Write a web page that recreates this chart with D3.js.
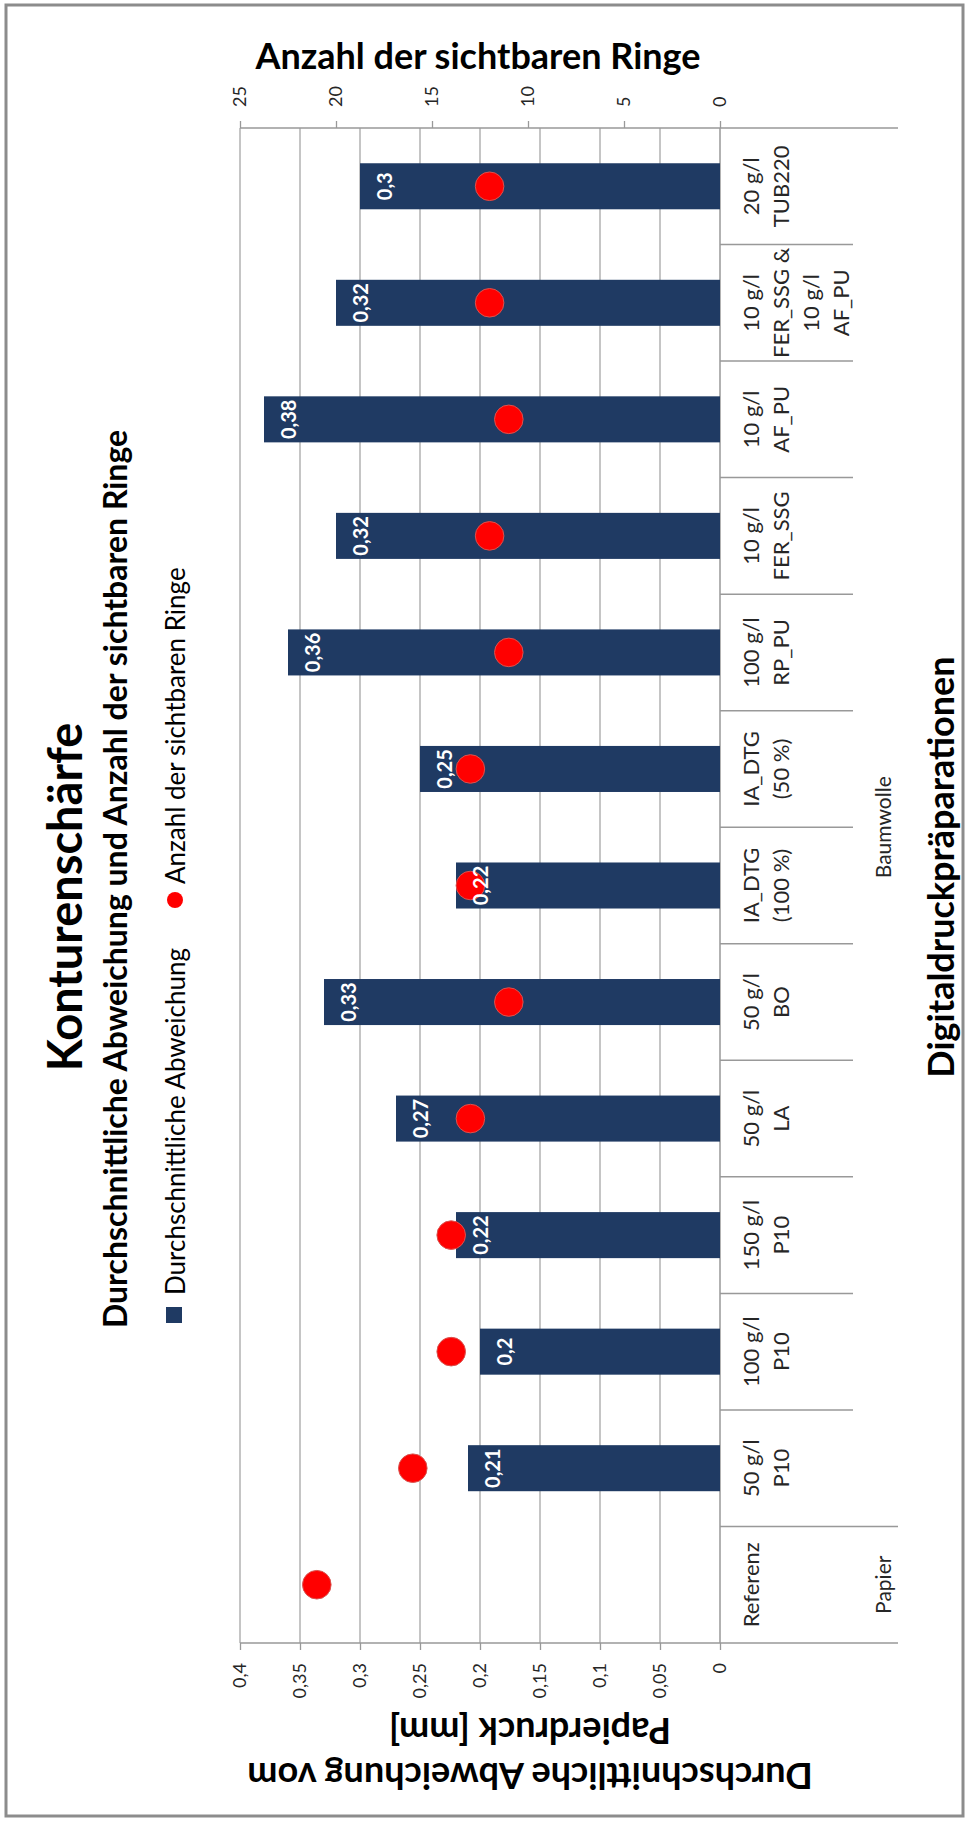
<!DOCTYPE html>
<html>
<head>
<meta charset="utf-8">
<script src="https://cdn.jsdelivr.net/npm/d3@7"></script>
<style>
  body { margin: 0; background: #fff; }
  svg { display: block; font-family: Lato, "Open Sans", sans-serif; }
</style>
</head>
<body>
<div id="chart"></div>
<script>
//Categories from left to right of the lying chart ("|" = line break)
var categories = ["Referenz", "50 g/l|P10", "100 g/l|P10", "150 g/l|P10", "50 g/l|LA", "50 g/l|BO",
    "IA_DTG|(100 %)", "IA_DTG|(50 %)", "100 g/l|RP_PU", "10 g/l|FER_SSG", "10 g/l|AF_PU",
    "10 g/l|FER_SSG &|10 g/l|AF_PU", "20 g/l|TUB220"];
var groupNames = ["Papier", "Baumwolle"];
var groupSizes = [1, 12];

//Durchschnittliche Abweichung [mm] (bars), no bar for the reference
var deviation = [null, 0.21, 0.2, 0.22, 0.27, 0.33, 0.22, 0.25, 0.36, 0.32, 0.38, 0.32, 0.3];
//Anzahl der sichtbaren Ringe (dots, secondary axis)
var rings = [21, 16, 14, 14, 13, 11, 13, 13, 11, 12, 11, 12, 12];

var devTicks = [0, 0.05, 0.1, 0.15, 0.2, 0.25, 0.3, 0.35, 0.4];
var ringTicks = [0, 5, 10, 15, 20, 25];

//Page size (portrait). The chart is built lying down and turned by -90 degrees
var width = 968,
    height = 1821;

var plot = { left: 178, right: 1693, top: 240, bottom: 720 };
var catEnd = 853,   //end of the category separators
    groupEnd = 898; //end of the group separators

var de = d3.formatLocale({ decimal: ",", thousands: ".", grouping: [3], currency: ["", "€"] });
var fmt = de.format(".2~f");

var svg = d3.select("#chart").append("svg")
    .attr("width", width)
    .attr("height", height);

//outer frame
svg.append("rect")
    .attr("x", 6).attr("y", 5)
    .attr("width", width - 11).attr("height", height - 10)
    .attr("fill", "none")
    .attr("stroke", "#8c8c8c")
    .attr("stroke-width", 3);

var g = svg.append("g")
    .attr("transform", "translate(0," + height + ") rotate(-90)");

//Scales
var x = d3.scaleBand()
    .domain(d3.range(categories.length))
    .range([plot.left, plot.right]);
var y = d3.scaleLinear().domain([0, 0.4]).range([plot.bottom, plot.top]);
var y2 = d3.scaleLinear().domain([0, 25]).range([plot.bottom, plot.top]);
var bw = x.bandwidth(),
    barW = bw * 0.395;

//Gridlines
g.append("g")
    .selectAll("line")
    .data(devTicks.slice(1))
    .enter().append("line")
    .attr("x1", plot.left).attr("x2", plot.right)
    .attr("y1", function (d) { return y(d); })
    .attr("y2", function (d) { return y(d); })
    .attr("stroke", "#a6a6a6")
    .attr("stroke-width", 1.3);

//Primary axis (left of the lying chart)
var axisL = g.append("g")
    .attr("transform", "translate(" + plot.left + ",0)")
    .call(d3.axisLeft(y).tickValues(devTicks).tickSize(7).tickPadding(13).tickFormat(fmt));
axisL.select(".domain").remove();

//Secondary axis (right)
var axisR = g.append("g")
    .attr("transform", "translate(" + plot.right + ",0)")
    .call(d3.axisRight(y2).tickValues(ringTicks).tickSize(7).tickPadding(14));
axisR.select(".domain").remove();

g.selectAll(".tick line").attr("stroke", "#999").attr("stroke-width", 1.3);
g.selectAll(".tick text")
    .attr("font-size", 18)
    .attr("font-family", "Lato, sans-serif")
    .attr("fill", "#262626");

//Axis lines
var axisLines = [
    [plot.left, y(0.4), plot.left, groupEnd],
    [plot.right, y2(25), plot.right, groupEnd],
    [plot.left, y(0), plot.right, y(0)]
];
g.append("g")
    .selectAll("line")
    .data(axisLines)
    .enter().append("line")
    .attr("x1", function (d) { return d[0]; })
    .attr("y1", function (d) { return d[1]; })
    .attr("x2", function (d) { return d[2]; })
    .attr("y2", function (d) { return d[3]; })
    .attr("stroke", "#999")
    .attr("stroke-width", 1.5);

//Category separators (longer where a group ends)
var groupStarts = d3.cumsum(groupSizes);
g.append("g")
    .selectAll("line")
    .data(d3.range(1, categories.length))
    .enter().append("line")
    .attr("x1", function (d) { return x(d); })
    .attr("x2", function (d) { return x(d); })
    .attr("y1", y(0))
    .attr("y2", function (d) { return groupStarts.indexOf(d) >= 0 ? groupEnd : catEnd; })
    .attr("stroke", "#999")
    .attr("stroke-width", 1.5);

//Bars
var idx = d3.range(categories.length);
g.append("g")
    .selectAll("rect")
    .data(idx.filter(function (i) { return deviation[i] != null; }))
    .enter().append("rect")
    .attr("x", function (i) { return x(i) + (bw - barW) / 2; })
    .attr("width", barW)
    .attr("y", function (i) { return y(deviation[i]); })
    .attr("height", function (i) { return y(0) - y(deviation[i]); })
    .attr("fill", "#1f3a63");

//Dots
g.append("g")
    .selectAll("circle")
    .data(idx)
    .enter().append("circle")
    .attr("cx", function (i) { return x(i) + bw / 2; })
    .attr("cy", function (i) { return y2(rings[i]); })
    .attr("r", 14.3)
    .attr("fill", "#ff0000")
    .attr("stroke", "#d9534f")
    .attr("stroke-width", 1);

//Bar labels
g.append("g")
    .selectAll("text")
    .data(idx.filter(function (i) { return deviation[i] != null; }))
    .enter().append("text")
    .attr("x", function (i) { return x(i) + bw / 2; })
    .attr("y", function (i) { return y(deviation[i]) + 24; })
    .attr("text-anchor", "middle")
    .attr("dominant-baseline", "central")
    .attr("font-size", 20)
    .attr("font-weight", "bold")
    .attr("fill", "#fff")
    .text(function (i) { return fmt(deviation[i]); });

//Category labels
var catLabels = g.append("g")
    .selectAll("g")
    .data(idx)
    .enter().append("g");
catLabels.selectAll("text")
    .data(function (i) {
        return categories[i].split("|").map(function (t, k) { return { i: i, k: k, t: t }; });
    })
    .enter().append("text")
    .attr("x", function (d) { return x(d.i) + bw / 2; })
    .attr("y", function (d) { return 750 + d.k * 30; })
    .attr("text-anchor", "middle")
    .attr("dominant-baseline", "central")
    .attr("font-size", 22)
    .attr("fill", "#262626")
    .text(function (d) { return d.t; });

//Group labels
g.append("g")
    .selectAll("text")
    .data(groupNames)
    .enter().append("text")
    .attr("x", function (d, k) {
        var a = k === 0 ? 0 : groupStarts[k - 1];
        return x(a) + (groupSizes[k] * bw) / 2;
    })
    .attr("y", 882)
    .attr("text-anchor", "middle")
    .attr("dominant-baseline", "central")
    .attr("font-size", 21)
    .attr("fill", "#262626")
    .text(function (d) { return d; });

//Titles
function label(tx, ty, rot, size, bold, txt, anchor) {
    g.append("text")
        .attr("transform", "translate(" + tx + "," + ty + ") rotate(" + rot + ")")
        .attr("text-anchor", anchor || "middle")
        .attr("dominant-baseline", "central")
        .attr("font-size", size)
        .attr("font-weight", bold ? "bold" : "normal")
        .attr("fill", "#000")
        .text(txt);
}
label(924, 64, 0, 47, true, "Konturenschärfe");
label(942, 114, 0, 32, true, "Durchschnittliche Abweichung und Anzahl der sichtbaren Ringe");
label(954, 940, 0, 36, true, "Digitaldruckpräparationen");
label(1766, 478, 90, 36, true, "Anzahl der sichtbaren Ringe");
label(44, 530, -90, 36, true, "Durchschnittliche Abweichung vom");
label(89, 530, -90, 36, true, "Papierdruck [mm]");

//Legend
g.append("rect")
    .attr("x", 498).attr("y", 166)
    .attr("width", 16).attr("height", 16)
    .attr("fill", "#1f3a63");
label(526, 175, 0, 26, false, "Durchschnittliche Abweichung", "start");
g.append("circle")
    .attr("cx", 921).attr("cy", 175).attr("r", 8)
    .attr("fill", "#ff0000");
label(937, 175, 0, 26, false, "Anzahl der sichtbaren Ringe", "start");
</script>
</body>
</html>
